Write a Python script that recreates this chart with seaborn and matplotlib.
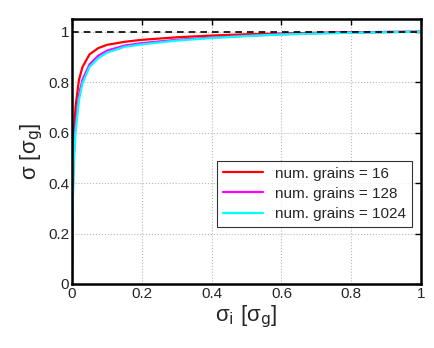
import numpy as np
import pandas as pd
import matplotlib
matplotlib.use('Agg')
import matplotlib.pyplot as plt
import seaborn as sns

# values
sigma_i = [0, 0.002, 0.005, 0.01, 0.02, 0.03, 0.05, 0.075, 0.1, 0.15, 0.2, 0.3, 0.4, 0.5, 0.6, 0.7, 0.8, 0.9, 1.0]
sigma_16 = [0, 0.40, 0.58, 0.70, 0.81, 0.86, 0.91, 0.935, 0.948, 0.960, 0.968, 0.978, 0.985, 0.990, 0.993, 0.996, 0.998, 0.999, 1.0]
sigma_128 = [0, 0.33, 0.50, 0.63, 0.75, 0.81, 0.87, 0.905, 0.925, 0.945, 0.955, 0.968, 0.977, 0.984, 0.990, 0.994, 0.997, 0.999, 1.0]
sigma_1024 = [0, 0.30, 0.47, 0.60, 0.73, 0.795, 0.86, 0.895, 0.917, 0.940, 0.950, 0.965, 0.975, 0.983, 0.989, 0.993, 0.996, 0.998, 1.0]
labels = ['num. grains = 16', 'num. grains = 128', 'num. grains = 1024']

df = pd.concat([
    pd.DataFrame({'x': sigma_i, 'y': s, 'grains': lab})
    for s, lab in zip([sigma_16, sigma_128, sigma_1024], labels)
])

sns.set_style('white')
plt.rcParams['font.family'] = ['Liberation Sans', 'DejaVu Sans']

fig = plt.figure(figsize=(4.35, 3.48), dpi=100)
ax = fig.add_axes([0.1655, 0.184, 0.8025, 0.761])

palette = {labels[0]: '#ff0000', labels[1]: '#ff00ff', labels[2]: '#00ffff'}
sns.lineplot(data=df, x='x', y='y', hue='grains', palette=palette,
             linewidth=1.6, ax=ax, sort=False)

ax.axhline(1, color='black', linestyle='--', linewidth=1.2, dashes=(4, 3))

ax.set_xlim(0, 1)
ax.set_ylim(0, 1.05)
ax.set_xticks(np.arange(0, 1.01, 0.2))
ax.set_yticks(np.arange(0, 1.01, 0.2))
ax.set_xticklabels(['0', '0.2', '0.4', '0.6', '0.8', '1'])
ax.set_yticklabels(['0', '0.2', '0.4', '0.6', '0.8', '1'])
ax.tick_params(direction='in', length=4, width=1, top=True, right=True,
               labelsize=11, pad=2, color='black')
ax.grid(True, color='#b8b8b8', linestyle=':', linewidth=0.8)
for sp in ax.spines.values():
    sp.set_linewidth(1.8)
    sp.set_color('black')

ax.set_xlabel('σ$_\\mathrm{i}$ [σ$_\\mathrm{g}$]', fontsize=16, labelpad=2)
ax.set_ylabel('σ [σ$_\\mathrm{g}$]', fontsize=16, labelpad=2)

leg = ax.legend(loc='lower right', bbox_to_anchor=(0.974, 0.215), fontsize=11,
                frameon=True, fancybox=False, handlelength=2.6,
                borderpad=0.4, labelspacing=0.4, borderaxespad=0)
leg.get_frame().set_edgecolor('black')
leg.get_frame().set_linewidth(0.8)

plt.savefig('out.png', dpi=100)
